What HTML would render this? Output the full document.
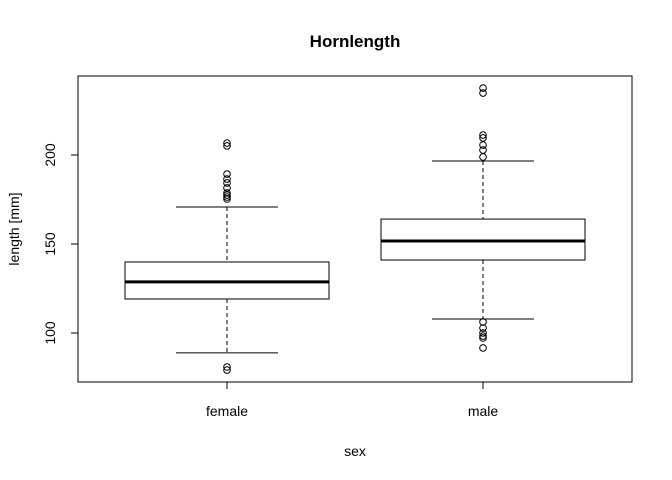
<!DOCTYPE html>
<html><head><meta charset="utf-8"><style>body{margin:0;background:#fff}svg{display:block;font-family:"Liberation Sans",Arial,sans-serif}</style></head>
<body>
<svg id="chart" width="672" height="480"></svg>
<script>
const categories = ["female","male"];
const whiskerLow = [88.8, 107.9];
const q1 = [119.1, 141.0];
const medians = [128.7, 151.7];
const q3 = [139.9, 164.0];
const whiskerHigh = [170.8, 196.6];
const femaleOutliers = [206.7,205.1,189.3,186.5,184.3,181.5,178.7,177.5,176.4,175.3,80.9,79.2];
const maleOutliers = [237.6,234.8,211.2,209.6,205.6,202.8,198.9,106.2,102.8,100,98.3,97.2,91.6];
const outliers = [femaleOutliers, maleOutliers];
const yTicks = [100,150,200];

const NS="http://www.w3.org/2000/svg";
const svg=document.getElementById('chart');
function mk(t,a,p){const e=document.createElementNS(NS,t);for(const k in a)e.setAttribute(k,a[k]);(p||svg).appendChild(e);return e;}
const y=v=>333-(v-100)*1.78;
const x=i=>227+i*256;
const hw=102;

const frame=mk('rect',{x:78,y:76,width:554,height:306,fill:'none',stroke:'#000'});



const title=mk('text',{x:355,y:47,'text-anchor':'middle','font-size':17,'font-weight':'bold'});
title.textContent='Hornlength';



const xt=mk('text',{x:355,y:456,'text-anchor':'middle','font-size':14});
xt.textContent='sex';



const yt=mk('text',{x:0,y:0,'text-anchor':'middle','font-size':14,transform:'translate(19,229) rotate(-90)'});
yt.textContent='length [mm]';



yTicks.forEach(v=>{
  const l=mk('line',{x1:71,x2:78,y1:y(v),y2:y(v),stroke:'#000'});
  
  
  const t=mk('text',{x:0,y:0,'text-anchor':'middle','font-size':14,transform:`translate(55,${y(v)}) rotate(-90)`});
  t.textContent=v;
  
  
});

categories.forEach((c,i)=>{
  const cx=x(i);
  const tk=mk('line',{x1:cx,x2:cx,y1:382,y2:389,stroke:'#000'});
  
  
  const tl=mk('text',{x:cx,y:416,'text-anchor':'middle','font-size':14});
  tl.textContent=c;
  
  
  const g=mk('g',{});
  
  
  mk('line',{x1:cx,x2:cx,y1:y(whiskerHigh[i]),y2:y(q3[i]),stroke:'#000','stroke-dasharray':'4,3'},g);
  mk('line',{x1:cx,x2:cx,y1:y(q1[i]),y2:y(whiskerLow[i]),stroke:'#000','stroke-dasharray':'4,3'},g);
  mk('line',{x1:cx-hw/2,x2:cx+hw/2,y1:y(whiskerHigh[i]),y2:y(whiskerHigh[i]),stroke:'#000'},g);
  mk('line',{x1:cx-hw/2,x2:cx+hw/2,y1:y(whiskerLow[i]),y2:y(whiskerLow[i]),stroke:'#000'},g);
  mk('rect',{x:cx-hw,y:y(q3[i]),width:hw*2,height:y(q1[i])-y(q3[i]),fill:'none',stroke:'#000'},g);
  mk('line',{x1:cx-hw,x2:cx+hw,y1:y(medians[i]),y2:y(medians[i]),stroke:'#000','stroke-width':3},g);
  outliers[i].forEach(v=>{
    const o=mk('circle',{cx:cx,cy:y(v),r:3.3,fill:'none',stroke:'#000'},g);
    
    
  });
});
</script>
</body></html>
